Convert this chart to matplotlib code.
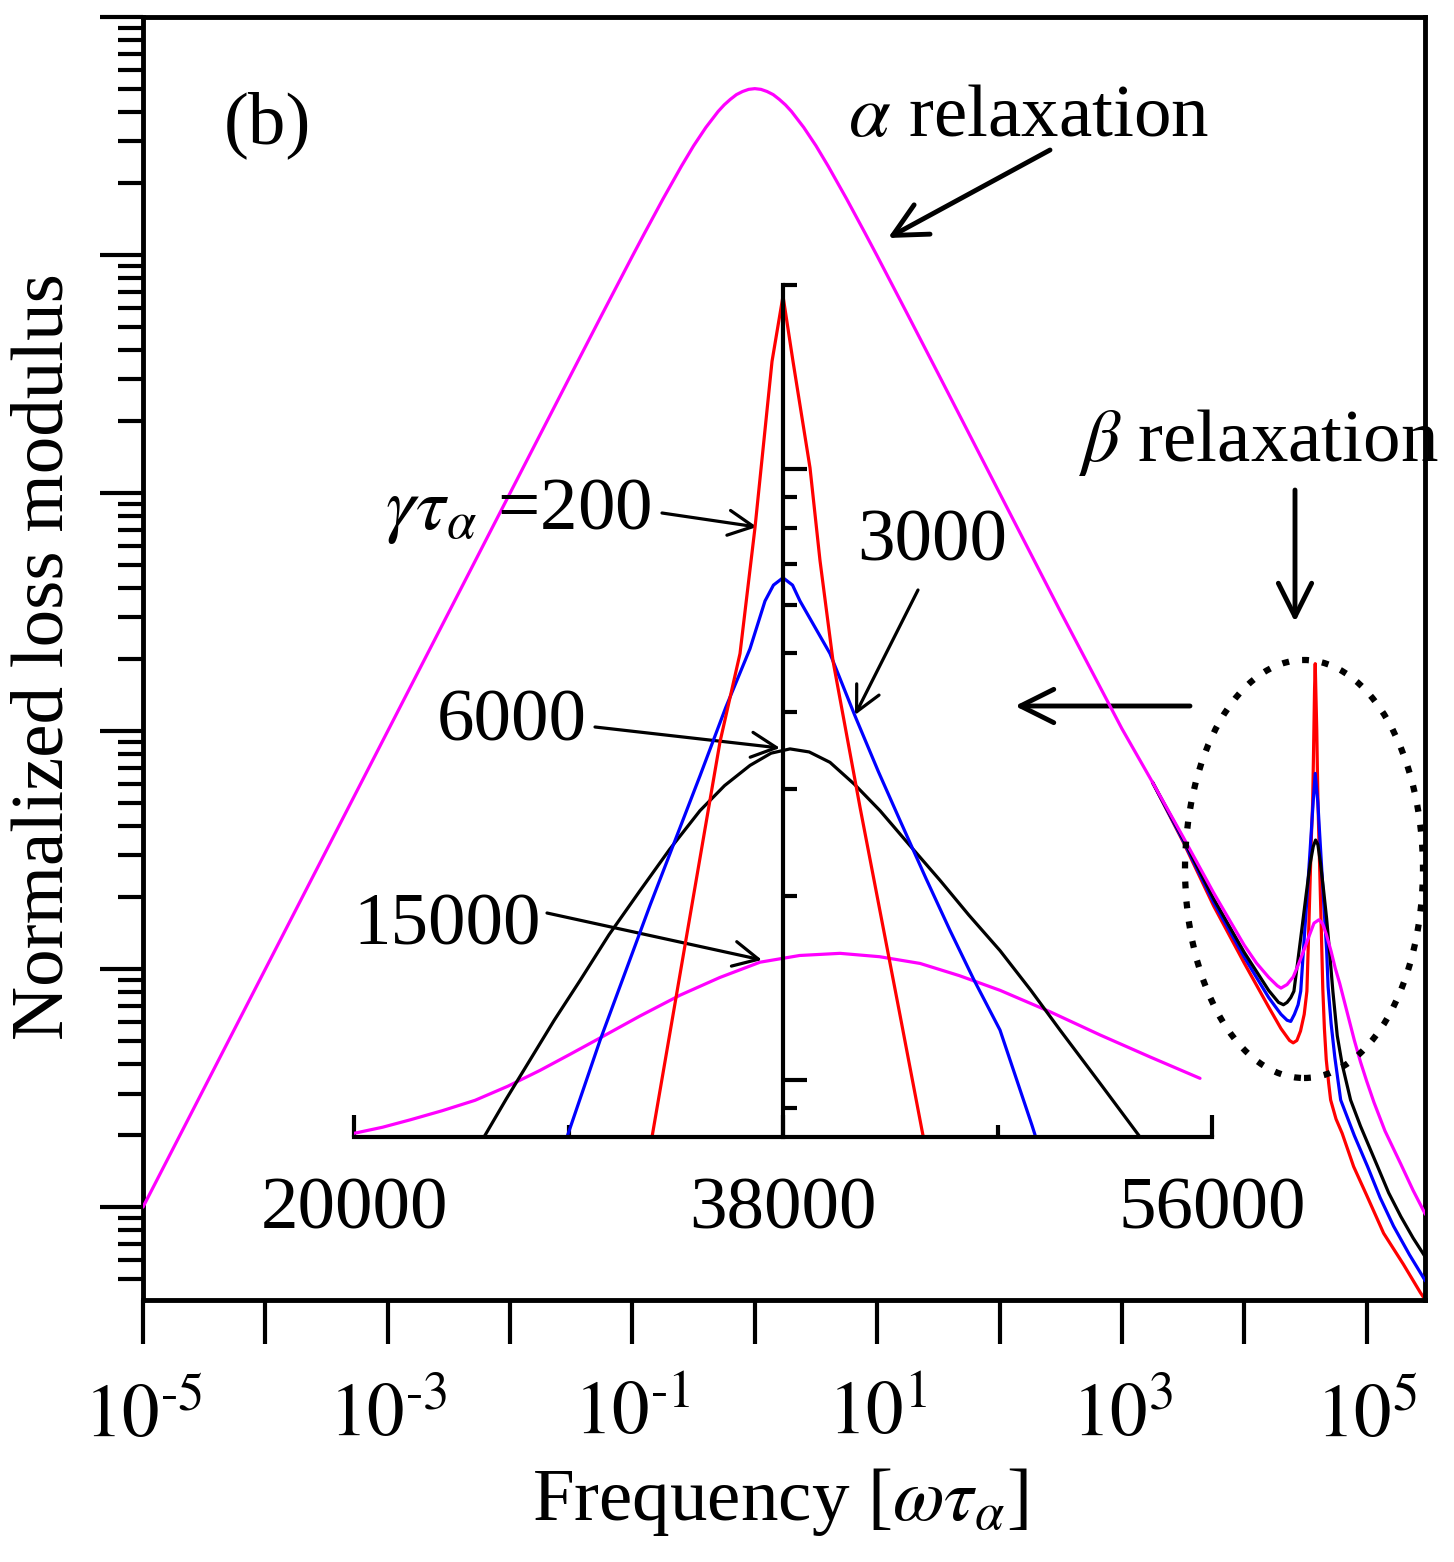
import numpy as np
import matplotlib
matplotlib.use('Agg')
import matplotlib.pyplot as plt
from matplotlib.patches import Ellipse
from matplotlib.ticker import LogLocator, NullFormatter, FixedLocator, NullLocator

plt.rcParams['font.family'] = ['Liberation Serif', 'DejaVu Serif']
plt.rcParams['mathtext.fontset'] = 'stix'

# ---------------- data ----------------
# main panel: log10(omega*tau_alpha) and log10(normalized loss modulus)
logw_15000 = [-5, -4, -3, -2, -1.5, -1.25, -1, -0.9, -0.75, -0.6, -0.5, -0.4, -0.3, -0.25, -0.2,
              -0.15, -0.1, -0.05, 0, 0.05, 0.1, 0.15, 0.2, 0.25, 0.3, 0.4, 0.5, 0.6, 0.75, 0.9,
              1, 1.25, 1.5, 2, 2.5, 2.75, 3.0, 3.25, 3.5, 3.75, 4.0, 4.1, 4.2, 4.27, 4.30, 4.35,
              4.40, 4.44, 4.48, 4.53, 4.57, 4.61, 4.64, 4.67, 4.71, 4.744, 4.78, 4.82, 4.86,
              4.9, 4.95, 5.0, 5.06, 5.15, 5.28, 5.38, 5.48]
logG_15000 = [-5, -4, -3, -2, -1.5, -1.251, -1.004, -0.907, -0.764, -0.627, -0.541, -0.464, -0.397,
              -0.369, -0.346, -0.326, -0.313, -0.304, -0.301, -0.304, -0.313, -0.326, -0.346,
              -0.369, -0.397, -0.464, -0.541, -0.627, -0.764, -0.907, -1.004, -1.251, -1.5, -2.0,
              -2.5, -2.745, -2.99, -3.215, -3.445, -3.68, -3.90, -3.975, -4.035, -4.07, -4.08,
              -4.065, -4.033, -3.984, -3.931, -3.861, -3.807, -3.793, -3.809, -3.853, -3.926,
              -3.997, -4.06, -4.14, -4.22, -4.30, -4.39, -4.47, -4.56, -4.68, -4.82, -4.93, -5.03]

logw_200 = [3.25, 3.5, 3.75, 4.0, 4.2, 4.3, 4.37, 4.4, 4.43, 4.46, 4.49, 4.512, 4.522, 4.538,
            4.5485, 4.559, 4.566, 4.5745, 4.58, 4.5846, 4.5926, 4.5972, 4.6031, 4.6153, 4.624,
            4.6326, 4.6418, 4.655, 4.67, 4.69, 4.706, 4.75, 4.8, 4.894, 5.0, 5.139, 5.3, 5.44,
            5.48]
logG_200 = [-3.215, -3.465, -3.735, -3.975, -4.16, -4.25, -4.30, -4.31, -4.30, -4.26, -4.19,
            -4.093, -3.922, -3.636, -3.446, -3.302, -3.096, -2.824, -2.717, -2.824, -2.998, -3.15,
            -3.314, -3.554, -3.724, -3.894, -4.082, -4.25, -4.38, -4.48, -4.55, -4.63, -4.69,
            -4.83, -4.95, -5.11, -5.24, -5.36, -5.39]

logw_3000 = [3.25, 3.5, 3.75, 4.0, 4.2, 4.3, 4.35, 4.38, 4.41, 4.44, 4.4615, 4.4817, 4.5108,
             4.538, 4.5637, 4.5798, 4.6017, 4.613, 4.6326, 4.6533, 4.6731, 4.6853, 4.71, 4.74,
             4.788, 4.9, 5.008, 5.11, 5.22, 5.35, 5.48]
logG_3000 = [-3.215, -3.46, -3.72, -3.95, -4.12, -4.19, -4.215, -4.22, -4.19, -4.15,
             -4.093, -3.935, -3.714, -3.502, -3.294, -3.178, -3.302, -3.404, -3.575, -3.755,
             -3.918, -4.074, -4.23, -4.37, -4.55, -4.70, -4.83, -4.96, -5.08, -5.20, -5.31]

logw_6000 = [3.25, 3.5, 3.75, 4.0, 4.2, 4.28, 4.32, 4.35, 4.38, 4.4058, 4.4375, 4.4695,
             4.5051, 4.5381, 4.5637, 4.5831, 4.6017, 4.624, 4.6492, 4.6731, 4.6957, 4.7241, 4.76,
             4.8, 4.869, 4.95, 5.09, 5.18, 5.28, 5.38, 5.48]
logG_6000 = [-3.215, -3.452, -3.705, -3.93, -4.09, -4.14, -4.15, -4.14, -4.12, -4.093,
             -3.967, -3.837, -3.690, -3.559, -3.485, -3.458, -3.477, -3.559, -3.673, -3.788,
             -3.918, -4.093, -4.28, -4.40, -4.55, -4.66, -4.83, -4.94, -5.04, -5.13, -5.21]

# inset: linear omega*tau_alpha, log10 of loss modulus in inset decades
in_w_200 = [32300, 32504, 33259, 34520, 35359, 36196, 36825, 37539, 38000, 38420, 39133, 39553,
            40098, 41234, 42073, 42912, 43832, 44000]
in_g_200 = [-0.15, -0.093, 0.078, 0.364, 0.554, 0.698, 0.904, 1.176, 1.283, 1.176, 1.002, 0.850,
            0.686, 0.446, 0.276, 0.106, -0.082, -0.115]

in_w_3000 = [28600, 28938, 30322, 32420, 34518, 35600, 36616, 37245, 37600, 38000, 38400, 38713,
             39972, 41021, 42000, 42909, 44000, 45007, 46000, 47105, 48448, 48700]
in_g_3000 = [-0.15, -0.093, 0.065, 0.286, 0.498, 0.61, 0.706, 0.784, 0.81, 0.822, 0.81, 0.784,
             0.698, 0.596, 0.505, 0.425, 0.33, 0.245, 0.165, 0.082, -0.074, -0.105]

in_w_6000 = [24800, 25455, 26400, 27385, 28400, 29483, 30700, 32000, 33250, 34518, 35550, 36616,
             37500, 38294, 39100, 39972, 41000, 42070, 43300, 44588, 45800, 47105, 48400, 49623,
             51300, 52980, 53800]
in_g_6000 = [-0.136, -0.093, -0.03, 0.033, 0.098, 0.163, 0.238, 0.310, 0.378, 0.441, 0.482, 0.515,
             0.535, 0.542, 0.537, 0.520, 0.484, 0.441, 0.385, 0.327, 0.27, 0.212, 0.147, 0.082,
             -0.005, -0.093, -0.136]

in_w_15000 = [20000, 21200, 22350, 23700, 25077, 26450, 27805, 29050, 30322, 32000, 33679, 35350,
              37035, 38700, 40392, 42050, 43749, 45400, 47106, 49200, 51302, 53400, 55497]
in_g_15000 = [-0.087, -0.077, -0.065, -0.05, -0.033, -0.01, 0.016, 0.042, 0.069, 0.105, 0.139,
              0.168, 0.193, 0.204, 0.2075, 0.202, 0.191, 0.171, 0.147, 0.112, 0.074, 0.038, 0.003]

x_ticks_main = [-5, -4, -3, -2, -1, 0, 1, 2, 3, 4, 5]
x_tick_labels_main = [r'$10^{\text{-}5}$', '', r'$10^{\text{-}3}$', '', r'$10^{\text{-}1}$', '',
                      r'$10^{1}$', '', r'$10^{3}$', '', r'$10^{5}$']
inset_major_ticks = [20000, 38000, 56000]
inset_minor_ticks = [29000, 47000]
inset_tick_labels = ['20000', '38000', '56000']

MAG, RED, BLUE, BLK = '#ff00ff', '#ff0000', '#0000ff', '#000000'

# ---------------- figure ----------------
W, H = 1454, 1562
fig = plt.figure(figsize=(W / 100, H / 100), dpi=100)


def fx(px):
    return px / W


def fy(py):
    return 1 - py / H


ax = fig.add_axes([fx(143), fy(1300), (1425 - 143) / W, (1300 - 17) / H])
ax.set_xscale('log')
ax.set_yscale('log')

p = lambda a: np.power(10.0, np.asarray(a, dtype=float))
lw = 2.3
kw = dict(lw=lw, solid_joinstyle='round', solid_capstyle='round')
ax.plot(p(logw_200), p(logG_200), color=RED, zorder=2, **kw)
ax.plot(p(logw_3000), p(logG_3000), color=BLUE, zorder=3, **kw)
ax.plot(p(logw_6000), p(logG_6000), color=BLK, zorder=4, **kw)
ax.plot(p(logw_15000), p(logG_15000), color=MAG, zorder=5, **kw)

ax.set_xlim(1e-5, 3.0e5)
ax.set_ylim(4.07e-6, 1.0)

ax.set_xticks(p(x_ticks_main))
ax.set_xticklabels(x_tick_labels_main)
ax.xaxis.set_minor_locator(NullLocator())
ax.tick_params(axis='x', which='major', direction='out', length=32, width=3, labelsize=54, pad=28)
ax.yaxis.set_major_locator(LogLocator(base=10, numticks=20))
ax.yaxis.set_minor_locator(LogLocator(base=10, subs=np.arange(2, 10), numticks=40))
ax.yaxis.set_minor_formatter(NullFormatter())
ax.tick_params(axis='y', which='major', direction='out', length=31, width=3, labelleft=False)
ax.tick_params(axis='y', which='minor', direction='out', length=18, width=3)
for s in ax.spines.values():
    s.set_linewidth(3.5)

# ---------------- inset ----------------
axi = fig.add_axes([fx(354), fy(1137), (1212 - 354) / W, (1137 - 285) / H])
axi.patch.set_alpha(0)
axi.set_yscale('log')
axi.plot(in_w_15000, p(in_g_15000), color=MAG, **kw)
axi.plot(in_w_6000, p(in_g_6000), color=BLK, **kw)
axi.plot(in_w_3000, p(in_g_3000), color=BLUE, **kw)
axi.plot(in_w_200, p(in_g_200), color=RED, **kw)
axi.set_xlim(20000, 56000)
axi.set_ylim(10 ** -0.093, 20.0)
axi.spines['top'].set_visible(False)
axi.spines['right'].set_visible(False)
axi.spines['left'].set_position(('data', 38000))
axi.spines['left'].set_linewidth(3)
axi.spines['bottom'].set_linewidth(3)
axi.set_xticks(inset_major_ticks)
axi.set_xticklabels(inset_tick_labels)
axi.xaxis.set_minor_locator(FixedLocator(inset_minor_ticks))
axi.tick_params(axis='x', which='major', direction='in', length=16, width=3, labelsize=54, pad=29)
axi.tick_params(axis='x', which='minor', direction='in', length=9, width=3)
axi.yaxis.set_major_locator(LogLocator(base=10, numticks=10))
axi.yaxis.set_minor_locator(LogLocator(base=10, subs=np.arange(2, 10), numticks=20))
axi.yaxis.set_minor_formatter(NullFormatter())
axi.tick_params(axis='y', which='major', direction='in', length=17, width=3, labelleft=False)
axi.tick_params(axis='y', which='minor', direction='in', length=10, width=3, labelleft=False)

# ---------------- labels & annotations ----------------
FS = 54
fig.text(fx(780), fy(1502), r'Frequency [$\omega\tau_\alpha$]', ha='center', va='center', fontsize=FS)
fig.text(fx(45), fy(657), 'Normalized loss modulus', ha='center', va='center', rotation=90, fontsize=FS)
fig.text(fx(267), fy(125), '(b)', ha='center', va='center', fontsize=FS)
fig.text(fx(1028), fy(118), r'$\alpha$ relaxation', ha='center', va='center', fontsize=FS, zorder=10)
fig.text(fx(1258), fy(442), r'$\beta$ relaxation', ha='center', va='center', fontsize=FS, zorder=10)
fig.text(fx(518), fy(512), r'$\gamma\tau_\alpha$ =200', ha='center', va='center', fontsize=FS)
fig.text(fx(932), fy(543), '3000', ha='center', va='center', fontsize=FS)
fig.text(fx(512), fy(723), '6000', ha='center', va='center', fontsize=FS)
fig.text(fx(447), fy(927), '15000', ha='center', va='center', fontsize=FS)


def arrow(x0, y0, x1, y1, lwid, ms):
    ax.annotate('', xy=(fx(x1), fy(y1)), xytext=(fx(x0), fy(y0)),
                xycoords='figure fraction', textcoords='figure fraction', annotation_clip=False,
                arrowprops=dict(arrowstyle='->,head_length=0.6,head_width=0.3', lw=lwid,
                                mutation_scale=ms, color='black', shrinkA=0, shrinkB=0))


arrow(1050, 150, 888, 238, 3.5, 40)
arrow(1295, 490, 1295, 622, 3.5, 40)
arrow(1190, 706, 1015, 706, 3.5, 40)
arrow(662, 513, 757, 527, 2.3, 30)
arrow(918, 590, 855, 715, 2.3, 30)
arrow(595, 727, 780, 748, 2.3, 30)
arrow(547, 913, 762, 960, 2.3, 30)

ell = Ellipse((fx(1304), fy(869)), width=238 / W, height=418 / H, transform=fig.transFigure,
              fill=False, edgecolor='black', lw=4.5, linestyle=(0, (1.1, 2.1)))
fig.add_artist(ell)

fig.savefig('out.png', dpi=100)
